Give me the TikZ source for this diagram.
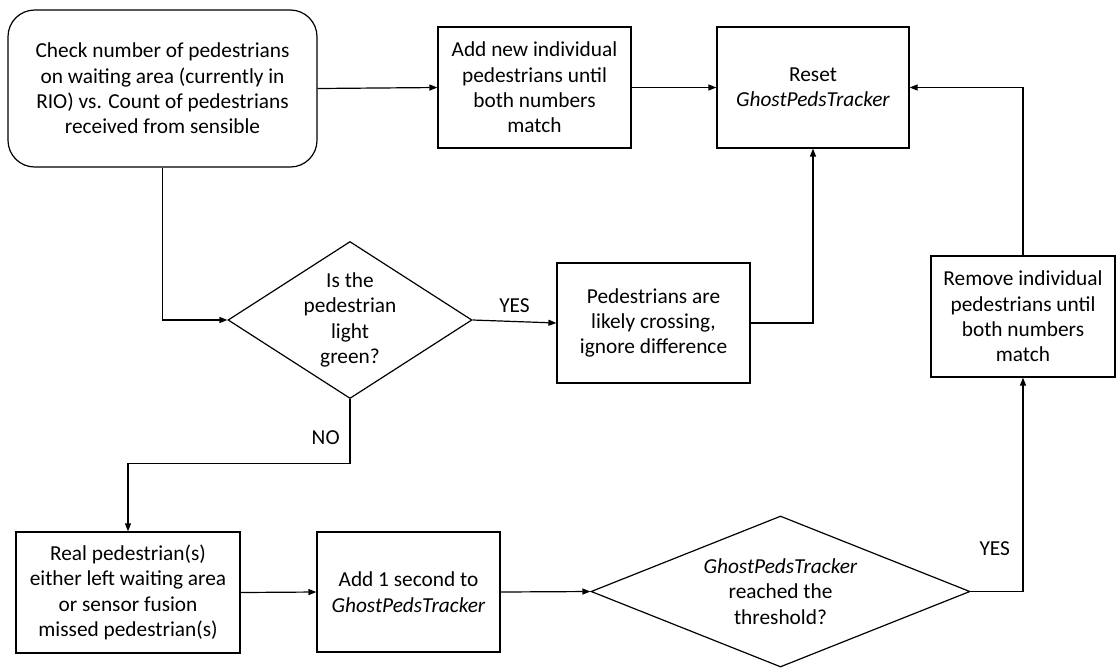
\documentclass[tikz,border=0pt]{standalone}
\usepackage{fontspec}
\setmainfont{Carlito}
\usetikzlibrary{shapes.geometric, arrows.meta, positioning}

\begin{document}
\begin{tikzpicture}[
    x=0.75pt, y=-0.75pt,
    process/.style={rectangle, draw=black, line width=0.9pt, fill=white, align=center, font=\fontsize{16}{19}\selectfont, inner sep=0pt},
    startbox/.style={process, rounded corners=20pt},
    decision/.style={diamond, draw=black, line width=0.9pt, fill=white, align=center, font=\fontsize{16}{19}\selectfont, inner sep=-20pt},
    answer/.style={font=\fontsize{16}{19}\selectfont},
    arrow/.style={-{Triangle[length=6pt, width=4.5pt]}, line width=0.9pt}
]
\useasboundingbox (0,0) rectangle (1116,669);

% Top row
\node[startbox, minimum width=231.75pt, minimum height=117.75pt] (checkcount) at (162.5, 88.5) {Check number of pedestrians\\on waiting area (currently in\\RIO) vs. Count of pedestrians\\received from sensible};
\node[process, minimum width=144.75pt, minimum height=90.75pt] (addnew) at (534.5, 87.5) {Add new individual\\pedestrians until\\both numbers\\match};
\node[process, minimum width=144pt, minimum height=90.75pt] (resettracker) at (813, 87.5) {Reset\\\textit{GhostPedsTracker}};

% Middle row
\node[decision, minimum width=183pt, minimum height=117.75pt] (lightgreen) at (350, 320) {Is the\\pedestrian\\light\\green?};
\node[process, minimum width=144.75pt, minimum height=90pt] (crossing) at (653.5, 323) {Pedestrians are\\likely crossing,\\ignore difference};
\node[process, minimum width=138pt, minimum height=90.75pt] (removeped) at (1023, 316.5) {Remove individual\\pedestrians until\\both numbers\\match};

% Bottom row
\node[process, minimum width=168pt, minimum height=90.75pt] (realped) at (128, 592.5) {Real pedestrian(s)\\either left waiting area\\or sensor fusion\\missed pedestrian(s)};
\node[process, minimum width=137.25pt, minimum height=90pt] (addsecond) at (408.5, 592) {Add 1 second to\\\textit{GhostPedsTracker}};
\node[decision, minimum width=284.25pt, minimum height=113.25pt] (threshold) at (780.5, 591.5) {\textit{GhostPedsTracker}\\reached the\\threshold?};

% Connections
\draw[arrow] (checkcount.east) -- (addnew.west);
\draw[arrow] (addnew.east) -- (resettracker.west);
\draw[arrow] (checkcount.south) |- (lightgreen.west);
\draw[arrow] (lightgreen.east) -- node[answer, above=3pt] {YES} (crossing.west);
\draw[arrow] (crossing.east) -| (resettracker.south);
\draw[arrow] (lightgreen.south) -- node[answer, pos=0.6, left=4pt] {NO} ++(0, 64.5) -| (realped.north);
\draw[arrow] (realped.east) -- (addsecond.west);
\draw[arrow] (addsecond.east) -- (threshold.west);
\draw[arrow] (threshold.east) -| node[answer, pos=0.6, left=6pt] {YES} (removeped.south);
\draw[arrow] (removeped.north) |- (resettracker.east);

\end{tikzpicture}
\end{document}
